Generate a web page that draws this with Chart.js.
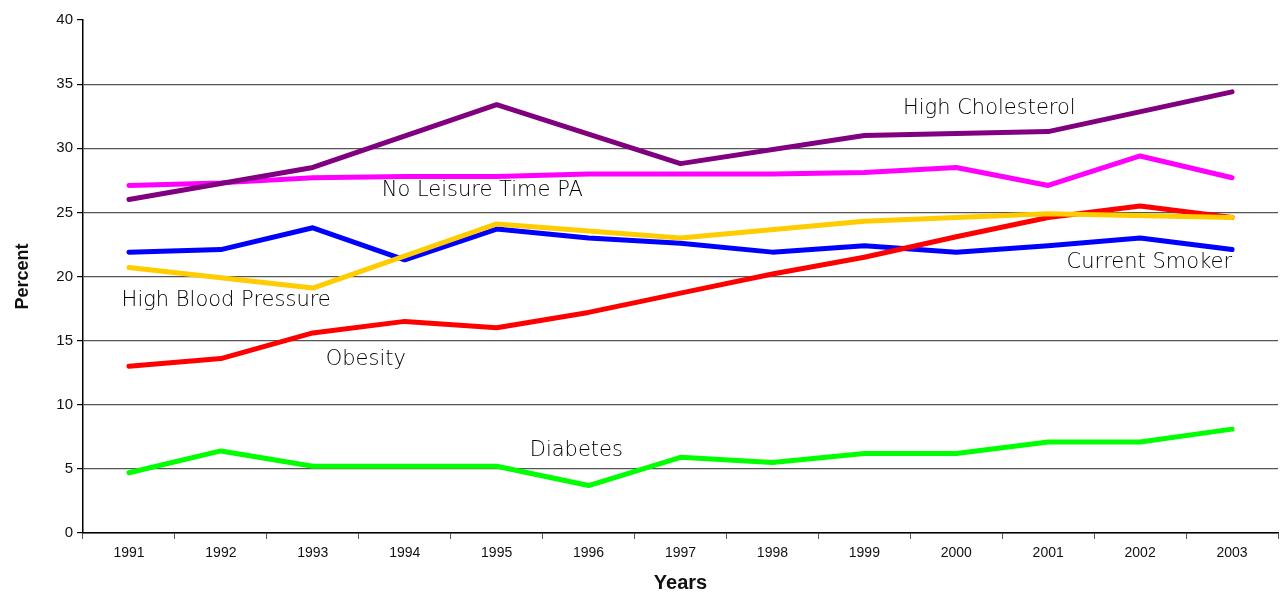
<!DOCTYPE html>
<html>
<head>
<meta charset="utf-8">
<script src="https://cdn.jsdelivr.net/npm/chart.js@4.4.1/dist/chart.umd.min.js"></script>
<style>
  html, body { margin: 0; padding: 0; background: #fff; }
  #wrap { width: 1280px; height: 599px; position: relative; }
</style>
</head>
<body>
<div id="wrap"><canvas id="chart"></canvas></div>
<script>
const years = ['1991','1992','1993','1994','1995','1996','1997','1998','1999','2000','2001','2002','2003'];
const yTicks = [0, 5, 10, 15, 20, 25, 30, 35, 40];

// even years missing for some series, line is joined across them
const highCholesterol = [26.0, null, 28.5, null, 33.4, null, 28.8, null, 31.0, null, 31.3, null, 34.4];
const noLeisurePA = [27.1, 27.3, 27.7, 27.8, 27.8, 28.0, 28.0, 28.0, 28.1, 28.5, 27.1, 29.4, 27.7];
const highBloodPressure = [20.7, null, 19.1, null, 24.1, null, 23.0, null, 24.3, null, 24.9, null, 24.6];
const currentSmoker = [21.9, 22.1, 23.8, 21.3, 23.7, 23.0, 22.6, 21.9, 22.4, 21.9, 22.4, 23.0, 22.1];
const obesity = [13.0, 13.6, 15.6, 16.5, 16.0, 17.2, 18.7, 20.2, 21.5, 23.1, 24.6, 25.5, 24.6];
const diabetes = [4.7, 6.4, 5.2, 5.2, 5.2, 3.7, 5.9, 5.5, 6.2, 6.2, 7.1, 7.1, 8.1];

// label text, anchored at (category index, value)
const seriesLabels = ['High Cholesterol', 'No Leisure Time PA', 'Current Smoker', 'High Blood Pressure', 'Obesity', 'Diabetes'];
const labelIdx = [8.42, 2.75, 10.2, -0.08, 2.14, 4.36];
const labelVal = [33.1, 26.7, 21.1, 18.1, 13.5, 6.4];

const lineLabels = {
  id: 'lineLabels',
  afterDatasetsDraw(chart) {
    const { ctx, scales: { x, y } } = chart;
    const step = x.getPixelForValue(1) - x.getPixelForValue(0);
    ctx.save();
    ctx.font = '300 21px "DejaVu Sans", sans-serif';
    ctx.fillStyle = '#000';
    ctx.textAlign = 'left';
    ctx.textBaseline = 'middle';
    seriesLabels.forEach((t, i) => {
      const px = x.getPixelForValue(0) + labelIdx[i] * step;
      ctx.fillText(t, px, y.getPixelForValue(labelVal[i]));
    });
    ctx.restore();
  }
};

function line(data, color) {
  return {
    data, borderColor: color, backgroundColor: color, borderWidth: 5,
    pointRadius: 0, tension: 0, spanGaps: true,
    borderCapStyle: 'round', borderJoinStyle: 'round', fill: false
  };
}

new Chart(document.getElementById('chart'), {
  type: 'line',
  data: {
    labels: years,
    datasets: [
      line(highCholesterol, '#800080'),
      line(noLeisurePA, '#FF00FF'),
      line(highBloodPressure, '#FFCC00'),
      line(obesity, '#FF0000'),
      line(currentSmoker, '#0000FF'),
      line(diabetes, '#00FF00')
    ]
  },
  options: {
    responsive: true,
    maintainAspectRatio: false,
    animation: false,
    layout: { padding: { top: 20, right: 2, left: 0, bottom: 0 } },
    plugins: { legend: { display: false }, tooltip: { enabled: false } },
    scales: {
      x: {
        offset: true,
        grid: { offset: true, drawOnChartArea: false, tickLength: 6, color: '#000', tickColor: '#555' },
        border: { color: '#000', width: 1.5 },
        ticks: { color: '#111', font: { family: 'Liberation Sans, Arial', size: 14 }, padding: 6, maxRotation: 0 },
        title: { display: true, text: 'Years', color: '#111', font: { family: 'Liberation Sans, Arial', size: 20, weight: 'bold' }, padding: { top: 8 } },
        afterFit(s) { s.height = 66; }
      },
      y: {
        min: 0, max: 40,
        afterBuildTicks(s) { s.ticks = yTicks.map(v => ({ value: v })); },
        grid: {
          color: c => (c.tick && c.tick.value === 40) ? 'rgba(0,0,0,0)' : '#555',
          tickColor: '#000', tickLength: 6, lineWidth: 1.2
        },
        border: { color: '#000', width: 1.5 },
        ticks: { color: '#111', font: { family: 'Liberation Sans, Arial', size: 15 }, padding: 4 },
        title: { display: true, text: 'Percent', color: '#111', font: { family: 'Liberation Sans, Arial', size: 18, weight: 'bold' }, padding: { bottom: 4, top: 12 } },
        afterFit(s) { s.width = 83; }
      }
    }
  },
  plugins: [lineLabels]
});
</script>
</body>
</html>
